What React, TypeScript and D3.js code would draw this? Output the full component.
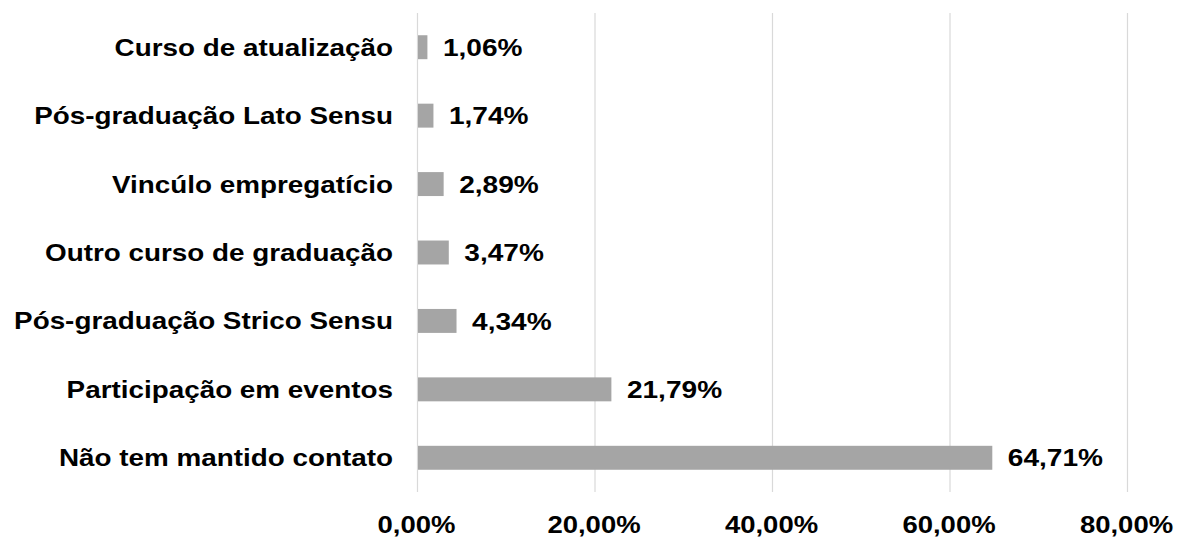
import { useMemo } from 'react';
import * as d3 from 'd3';

// categories from top to bottom, as in the picture
const categories = [
  'Curso de atualização',
  'Pós-graduação Lato Sensu',
  'Vincúlo empregatício',
  'Outro curso de graduação',
  'Pós-graduação Strico Sensu',
  'Participação em eventos',
  'Não tem mantido contato',
];
const values = [1.06, 1.74, 2.89, 3.47, 4.34, 21.79, 64.71];
const ticks = [0, 20, 40, 60, 80];

const WIDTH = 1179;
const HEIGHT = 540;
const FONT = 'Liberation Sans, Arial, sans-serif';

const fmt = (v: number) => `${v.toFixed(2).replace('.', ',')}%`;

interface LabelProps {
  x: number;
  y: number;
  anchor?: 'start' | 'middle' | 'end';
  size: number;
  stretch?: number;
  dy?: string;
  children: string;
}

// the source text is drawn a bit wider than plain Arial Bold
function Label({ x, y, anchor = 'start', size, stretch = 1.17, dy, children }: LabelProps) {
  return (
    <g transform={`translate(${x},${y}) scale(${stretch},1)`}>
      <text textAnchor={anchor} dy={dy} fontSize={size} fontWeight="bold" fill="#000">
        {children}
      </text>
    </g>
  );
}

export default function App() {
  const x = useMemo(() => d3.scaleLinear().domain([0, 80]).range([417.5, 1127.5]), []);
  const y = useMemo(
    () => d3.scaleBand<string>().domain(categories).range([13, 492]).paddingInner(0.65).paddingOuter(0.325),
    []
  );
  const mid = (c: string) => (y(c) ?? 0) + y.bandwidth() / 2;

  return (
    <svg
      width={WIDTH}
      height={HEIGHT}
      style={{ position: 'absolute', left: 0, top: 0, background: '#fff' }}
      fontFamily={FONT}
    >
      {/* Gridlines */}
      <g className="grid">
        {ticks.map((t) => (
          <line key={t} x1={x(t)} x2={x(t)} y1={13} y2={492} stroke="#d9d9d9" strokeWidth={1.2} />
        ))}
      </g>

      {/* Bars */}
      <g className="bars">
        {categories.map((c, i) => (
          <rect
            key={c}
            x={x(0) + 0.5}
            y={y(c)}
            width={x(values[i]) - x(0)}
            height={y.bandwidth()}
            fill="#a5a5a5"
          />
        ))}
      </g>

      {/* Value labels */}
      <g className="values">
        {categories.map((c, i) => (
          <Label key={c} x={x(values[i]) + 16} y={mid(c)} dy="0.36em" size={24}>
            {fmt(values[i])}
          </Label>
        ))}
      </g>

      {/* Category labels */}
      <g className="categories">
        {categories.map((c) => (
          <Label key={c} x={393} y={mid(c)} dy="0.36em" anchor="end" size={23.5} stretch={1.185}>
            {c}
          </Label>
        ))}
      </g>

      {/* X axis tick labels */}
      <g className="x-axis">
        {ticks.map((t) => (
          <Label key={t} x={x(t) - 1} y={533} anchor="middle" size={23.5}>
            {fmt(t)}
          </Label>
        ))}
      </g>
    </svg>
  );
}
